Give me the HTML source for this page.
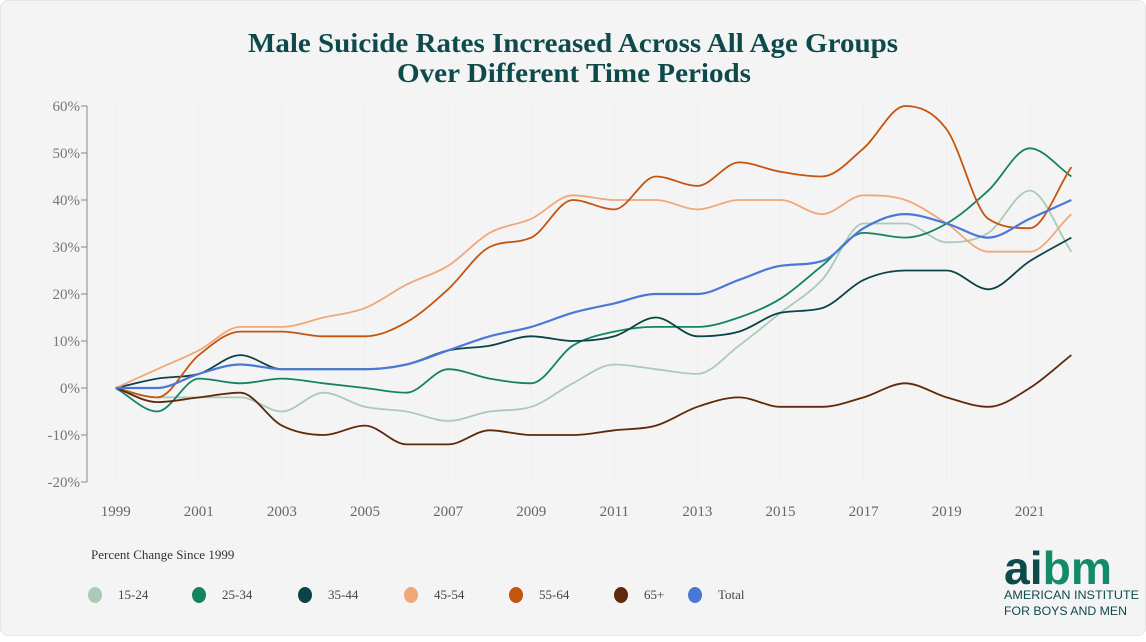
<!DOCTYPE html>
<html><head><meta charset="utf-8"><style>
body{margin:0;background:#fff;}
#card{position:absolute;left:0;top:0;width:1144px;height:634px;background:#f4f4f4;border:1px solid #e6e6e6;border-radius:8px;font-family:"Liberation Serif",serif;}
</style></head><body>
<div id="card">
<svg id="chart" width="1146" height="636">
<text x="247" y="51" textLength="650" lengthAdjust="spacingAndGlyphs" font-family="Liberation Serif" font-weight="bold" font-size="27" fill="#0e4a4c">Male Suicide Rates Increased Across All Age Groups</text>
<text x="396" y="81" textLength="354" lengthAdjust="spacingAndGlyphs" font-family="Liberation Serif" font-weight="bold" font-size="27" fill="#0e4a4c">Over Different Time Periods</text>
<g id="grid"></g><g id="axes"></g><g id="lines"></g>
<text x="90" y="558" font-size="13" fill="#333">Percent Change Since 1999</text>
<g id="legend"></g>
<g>
<text x="1003" y="583" textLength="108" lengthAdjust="spacingAndGlyphs" font-family="Liberation Sans" font-weight="bold" font-size="46" fill="#0e4a4c"><tspan>ai</tspan><tspan fill="#138a69">bm</tspan></text>
<text x="1003" y="598" textLength="135" lengthAdjust="spacingAndGlyphs" font-family="Liberation Sans" font-size="12" fill="#0e4a4c">AMERICAN INSTITUTE</text>
<text x="1003" y="614" textLength="123" lengthAdjust="spacingAndGlyphs" font-family="Liberation Sans" font-size="12" fill="#0e4a4c">FOR BOYS AND MEN</text>
</g>
</svg></div>
<script>
const years=[1999,2000,2001,2002,2003,2004,2005,2006,2007,2008,2009,2010,2011,2012,2013,2014,2015,2016,2017,2018,2019,2020,2021,2022];
const s1524=[0,-2,-2,-2,-5,-1,-4,-5,-7,-5,-4,1,5,4,3,9,16,23,35,35,31,33,42,29];
const s2534=[0,-5,2,1,2,1,0,-1,4,2,1,9,12,13,13,15,19,26,33,32,35,42,51,45];
const s3544=[0,2,3,7,4,4,4,5,8,9,11,10,11,15,11,12,16,17,23,25,25,21,27,32];
const s4554=[0,4,8,13,13,15,17,22,26,33,36,41,40,40,38,40,40,37,41,40,35,29,29,37];
const s5564=[0,-2,7,12,12,11,11,14,21,30,32,40,38,45,43,48,46,45,51,60,55,36,34,47];
const s65=[0,-3,-2,-1,-8,-10,-8,-12,-12,-9,-10,-10,-9,-8,-4,-2,-4,-4,-2,1,-2,-4,0,7];
const sTotal=[0,0,3,5,4,4,4,5,8,11,13,16,18,20,20,23,26,27,34,37,35,32,36,40];
const seriesNames=["15-24","25-34","35-44","45-54","55-64","65+","Total"];
const yTicks=[60,50,40,30,20,10,0,-10,-20];
const xTicks=[1999,2001,2003,2005,2007,2009,2011,2013,2015,2017,2019,2021];
const all=[s1524,s2534,s3544,s4554,s5564,s65,sTotal];
const colors=["#a9cbb8","#13845f","#0c4347","#f1a878","#c4550f","#5e2a0b","#4a78d6"];
const legendX=[94,198,304,410,515,620,694];
const X=y=>114.7+(y-1999)*41.55, Y=v=>387-v*4.7;
const NS="http://www.w3.org/2000/svg";
function mk(p,t,a){const e=document.createElementNS(NS,t);for(const k in a)e.setAttribute(k,a[k]);p.appendChild(e);return e;}
const grid=document.getElementById('grid'),axes=document.getElementById('axes'),lines=document.getElementById('lines'),leg=document.getElementById('legend');
xTicks.forEach(t=>{const g=mk(grid,'line',{x1:X(t),x2:X(t),y1:105,y2:481,stroke:'#ddd','stroke-dasharray':'1,3'});

const l=mk(axes,'text',{x:X(t),y:515,'text-anchor':'middle','font-size':'15',fill:'#666'});l.textContent=t;
});
const ax=mk(axes,'line',{x1:86,x2:86,y1:Y(60),y2:Y(-20),stroke:'#888'});

yTicks.forEach(t=>{mk(axes,'line',{x1:80,x2:86,y1:Y(t),y2:Y(t),stroke:'#888'});
const l=mk(axes,'text',{x:79,y:Y(t)+5,'text-anchor':'end','font-size':'15',fill:'#777'});l.textContent=t+'%';
});
function monotone(xs,ys){const n=xs.length,d=[],m=[];for(let i=0;i<n-1;i++)d.push((ys[i+1]-ys[i])/(xs[i+1]-xs[i]));
m[0]=d[0];m[n-1]=d[n-2];for(let i=1;i<n-1;i++){m[i]=d[i-1]*d[i]<=0?0:(d[i-1]+d[i])/2;}
for(let i=0;i<n-1;i++){if(d[i]==0){m[i]=0;m[i+1]=0;continue;}const a=m[i]/d[i],b=m[i+1]/d[i],s=a*a+b*b;if(s>9){const t=3/Math.sqrt(s);m[i]=t*a*d[i];m[i+1]=t*b*d[i];}}
let p=`M${xs[0]},${ys[0]}`;for(let i=0;i<n-1;i++){const h=(xs[i+1]-xs[i])/3;p+=`C${xs[i]+h},${ys[i]+m[i]*h} ${xs[i+1]-h},${ys[i+1]-m[i+1]*h} ${xs[i+1]},${ys[i+1]}`;}return p;}
all.forEach((s,k)=>{const p=mk(lines,'path',{d:monotone(years.map(X),s.map(Y)),fill:'none',stroke:colors[k],'stroke-width':k==6?2.2:1.8});

const lx=legendX[k];const g=mk(leg,'g',{});

mk(g,'ellipse',{cx:lx,cy:594,rx:7,ry:8,fill:colors[k]});
const t=mk(g,'text',{x:lx+23,y:598,'font-size':'13',fill:'#444'});t.textContent=seriesNames[k];});
</script></body></html>
